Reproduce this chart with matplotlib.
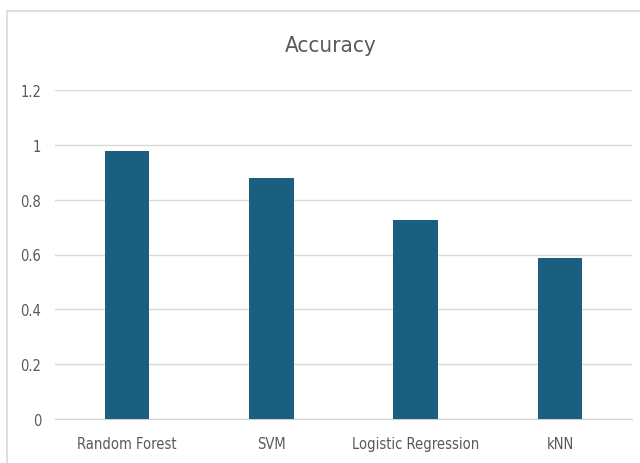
import matplotlib.pyplot as plt
from matplotlib.patches import Rectangle

# Model accuracy values
models = ['Random Forest', 'SVM', 'Logistic Regression', 'kNN']
accuracy = [0.978, 0.88, 0.726, 0.588]
yticks = [0, 0.2, 0.4, 0.6, 0.8, 1, 1.2]
ytick_labels = ['0', '0.2', '0.4', '0.6', '0.8', '1', '1.2']

plt.rcParams['font.family'] = ['Liberation Sans Narrow', 'DejaVu Sans']
plt.rcParams['font.stretch'] = 'condensed'

fig = plt.figure(figsize=(6.4, 4.64), dpi=100)

# Light chart-area border like in the spreadsheet export
fig.patches.append(Rectangle((7/640, -0.05), 1.0, 1 - 12/464 + 0.05,
                             transform=fig.transFigure, fill=False,
                             edgecolor='#d9d9d9', linewidth=1.2))

ax = fig.add_axes([55/640, 1 - 420/464, 577/640, (420 - 91)/464])
ax.bar(range(len(models)), accuracy, width=0.31, color='#1a5e80', zorder=3)

ax.set_xlim(-0.5, len(models) - 0.5)
ax.set_ylim(0, 1.2)
ax.set_yticks(yticks)
ax.set_yticklabels(ytick_labels)
ax.set_xticks(range(len(models)))
ax.set_xticklabels(models)
ax.tick_params(axis='both', length=0, labelsize=10.5, colors='#595959')
ax.tick_params(axis='y', pad=10)
ax.tick_params(axis='x', pad=12)

ax.grid(axis='y', color='#d9d9d9', linewidth=1, zorder=0)
for side in ['top', 'right', 'left']:
    ax.spines[side].set_visible(False)
ax.spines['bottom'].set_color('#d0d0d0')

fig.text(331/640, 1 - 46/464, 'Accuracy', ha='center', va='center',
         fontsize=16, color='#595959')

plt.savefig('out.png', dpi=100)
